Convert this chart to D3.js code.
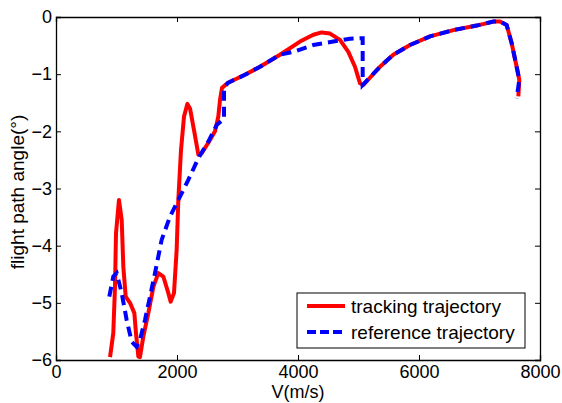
<!DOCTYPE html>
<html>
<head>
<meta charset="utf-8">
<script src="https://cdn.jsdelivr.net/npm/d3@7"></script>
<style>
body { margin: 0; background: #fff; }
text { font-family: "Liberation Sans", Arial, sans-serif; }
</style>
</head>
<body>
<svg id="chart"></svg>
<script>
width = 562
height = 403

// data: speed V (m/s), flight path angle (deg)
var trackV = [893, 947, 975, 992, 1041, 1086, 1113, 1152, 1223, 1295, 1322, 1361, 1388, 1443, 1526, 1609, 1691, 1774, 1857, 1895, 1950, 1994, 2022, 2066, 2116, 2171, 2215, 2281, 2353, 2408, 2518, 2628, 2683, 2711, 2744, 2843, 3124, 3372, 3702, 4033, 4253, 4391, 4529, 4694, 4832, 4942, 5025, 5080, 5355, 5575, 5851, 6182, 6567, 6953, 7228, 7339, 7449, 7532, 7614, 7658, 7642]
var trackAngle = [-5.95, -5.53, -4.72, -3.78, -3.2, -3.55, -4.37, -4.89, -5.0, -5.18, -5.53, -5.94, -5.95, -5.59, -5.18, -4.72, -4.48, -4.54, -4.83, -4.98, -4.83, -4.08, -3.2, -2.33, -1.74, -1.52, -1.6, -1.98, -2.41, -2.38, -2.2, -2.0, -1.74, -1.45, -1.24, -1.15, -1.01, -0.87, -0.66, -0.43, -0.31, -0.27, -0.29, -0.40, -0.61, -0.87, -1.16, -1.19, -0.87, -0.66, -0.49, -0.34, -0.23, -0.15, -0.08, -0.08, -0.14, -0.46, -0.87, -1.10, -1.39]

var refV = [881, 947, 1003, 1086, 1168, 1251, 1333, 1388, 1471, 1554, 1636, 1746, 1884, 2022, 2187, 2353, 2518, 2656, 2777, 2777, 2843, 3124, 3372, 3702, 3922, 4253, 4583, 4860, 5025, 5069, 5069, 5355, 5575, 5851, 6182, 6567, 6953, 7228, 7339, 7449, 7532, 7614, 7658, 7614]
var refAngle = [-4.89, -4.54, -4.48, -4.83, -5.3, -5.68, -5.77, -5.65, -5.3, -4.89, -4.48, -3.90, -3.49, -3.2, -2.85, -2.47, -2.18, -1.89, -1.78, -1.24, -1.15, -1.01, -0.87, -0.66, -0.61, -0.49, -0.43, -0.38, -0.37, -0.37, -1.19, -0.87, -0.66, -0.49, -0.34, -0.23, -0.15, -0.08, -0.08, -0.14, -0.46, -0.87, -1.10, -1.42]

var xTicks = [0, 2000, 4000, 6000, 8000]
var yTicks = [-6, -5, -4, -3, -2, -1, 0]
var seriesNames = ["tracking trajectory", "reference trajectory"]

let margin = {left: 56, right: 22, top: 17, bottom: 43}

let svg = d3.select("#chart")
    .attr("width", width)
    .attr("height", height)

var x = d3.scaleLinear().domain([0, 8000]).range([margin.left, width - margin.right])
var y = d3.scaleLinear().domain([-6, 0]).range([height - margin.bottom, margin.top])

// axes, ticks inward on all four sides
svg.append("g")
    .attr("transform", `translate(0, ${y(-6)})`)
    .call(d3.axisBottom(x).tickValues(xTicks).tickSize(-5).tickPadding(5).tickFormat(d3.format("d")))
svg.append("g")
    .attr("transform", `translate(0, ${y(0)})`)
    .call(d3.axisTop(x).tickValues(xTicks).tickSize(-5).tickFormat(""))
svg.append("g")
    .attr("transform", `translate(${x(0)}, 0)`)
    .call(d3.axisLeft(y).tickValues(yTicks).tickSize(-5).tickPadding(4).tickFormat(d3.format("d")))
svg.append("g")
    .attr("transform", `translate(${x(8000)}, 0)`)
    .call(d3.axisRight(y).tickValues(yTicks).tickSize(-5).tickFormat(""))

svg.selectAll(".domain").attr("stroke", "#000").attr("stroke-width", 1.3)
svg.selectAll(".tick line").attr("stroke", "#000")
svg.selectAll(".tick text").style("font-size", "18px").attr("fill", "#000")
    .style("font-family", "'Liberation Sans', Arial, sans-serif")

var line = d3.line().x(d => x(d[0])).y(d => y(d[1]))

var plot = svg.append("g")

plot.append("path")
    .datum(d3.zip(trackV, trackAngle))
    .attr("fill", "none")
    .attr("stroke", "#ff0000")
    .attr("stroke-width", 4)
    .attr("stroke-linejoin", "round")
    .attr("d", line)

plot.append("path")
    .datum(d3.zip(refV, refAngle))
    .attr("fill", "none")
    .attr("stroke", "#0000ff")
    .attr("stroke-width", 4)
    .attr("stroke-dasharray", "10,6")
    .attr("d", line)

// labels
svg.append("text")
    .attr("x", x(4000))
    .attr("y", 398)
    .attr("text-anchor", "middle")
    .style("font-size", "18px")
    .text("V(m/s)")

svg.append("text")
    .attr("transform", `translate(24, 192) rotate(-90)`)
    .attr("text-anchor", "middle")
    .style("font-size", "19px")
    .text("flight path angle(°)")

// legend
var legend = svg.append("g").attr("transform", "translate(297, 293)")
legend.append("rect")
    .attr("width", 228)
    .attr("height", 55)
    .attr("fill", "#fff")
    .attr("stroke", "#000")
    .attr("stroke-width", 1)

seriesNames.forEach(function(name, i) {
    let ly = 13 + i * 26
    legend.append("line")
        .attr("x1", 10).attr("x2", 48)
        .attr("y1", ly).attr("y2", ly)
        .attr("stroke", i == 0 ? "#ff0000" : "#0000ff")
        .attr("stroke-width", 4)
        .attr("stroke-dasharray", i == 0 ? null : "9,4")
    legend.append("text")
        .attr("x", 54)
        .attr("y", ly + 7)
        .style("font-size", "19px")
        .text(name)
})
</script>
</body>
</html>
